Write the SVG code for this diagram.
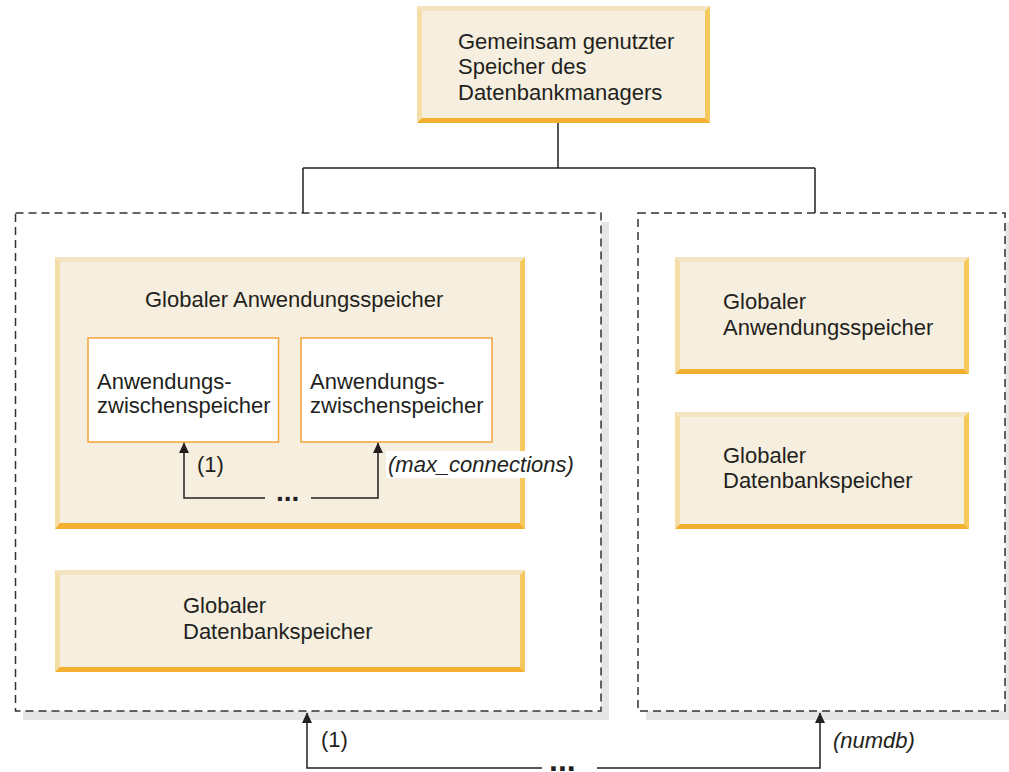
<svg xmlns="http://www.w3.org/2000/svg" width="1009" height="772" viewBox="0 0 1009 772">
<defs>
<style>
text{font-family:"Liberation Sans",Arial,Helvetica,sans-serif;font-size:22px;fill:#231f20}
.it{font-style:italic}
.dots{font-weight:bold;font-size:28px}
.fill{fill:#f6efdf}
.bt{fill:#f4e4c1}
.bl{fill:#f5dda8}
.br{fill:#f6c95c}
.bb{fill:#f2b02e}
.shadow{fill:#e6e6e6}
.dash{fill:#fff;stroke:#333;stroke-width:1.5;stroke-dasharray:8 5}
.inner{fill:#fff;stroke:#f4a33a;stroke-width:1.5}
.line{fill:none;stroke:#231f20;stroke-width:1.5}
</style>
<marker id="arr" markerUnits="userSpaceOnUse" markerWidth="11" markerHeight="11" viewBox="0 0 11 11" refX="10" refY="5.5" orient="auto">
<path d="M0,0.5 L10.5,5.5 L0,10.5 Z" fill="#231f20"/>
</marker>
</defs>
<rect width="1009" height="772" fill="#fff"/>

<g id="container-left">
<rect class="shadow" x="23" y="222" width="586" height="498"/>
<rect class="dash" x="15.5" y="213" width="585.5" height="498"/>
</g>
<g id="container-right">
<rect class="shadow" x="646" y="222" width="367" height="498"/>
<rect class="dash" x="638" y="213" width="367" height="498"/>
</g>

<g id="dbm-shared">
<rect class="fill" x="417" y="6" width="293" height="117"/>
<polygon class="bt" points="417,6 710,6 705,11 422,11"/>
<polygon class="bl" points="417,6 422,11 422,118 417,123"/>
<polygon class="br" points="710,6 710,123 705,118 705,11"/>
<polygon class="bb" points="417,123 422,118 705,118 710,123"/>
<text x="458" y="49">Gemeinsam genutzter</text>
<text x="458" y="74">Speicher des</text>
<text x="458" y="100">Datenbankmanagers</text>
</g>

<g id="global-app-left">
<rect class="fill" x="55" y="257" width="470" height="272"/>
<polygon class="bt" points="55,257 525,257 520,262 60,262"/>
<polygon class="bl" points="55,257 60,262 60,523 55,529"/>
<polygon class="br" points="525,257 525,529 520,523 520,262"/>
<polygon class="bb" points="55,529 60,523 520,523 525,529"/>
<text x="145" y="307">Globaler Anwendungsspeicher</text>
</g>

<g id="app-heap-1">
<rect class="inner" x="88" y="338" width="190.5" height="104"/>
<text x="97" y="389">Anwendungs-</text>
<text x="97" y="413">zwischenspeicher</text>
</g>
<g id="app-heap-2">
<rect class="inner" x="301" y="338" width="191" height="104"/>
<text x="310" y="389">Anwendungs-</text>
<text x="310" y="413">zwischenspeicher</text>
</g>

<g id="global-db-left">
<rect class="fill" x="55" y="570" width="470" height="102"/>
<polygon class="bt" points="55,570 525,570 520,575 60,575"/>
<polygon class="bl" points="55,570 60,575 60,667 55,672"/>
<polygon class="br" points="525,570 525,672 520,667 520,575"/>
<polygon class="bb" points="55,672 60,667 520,667 525,672"/>
<text x="183" y="613">Globaler</text>
<text x="183" y="639">Datenbankspeicher</text>
</g>

<g id="global-app-right">
<rect class="fill" x="675" y="257" width="294" height="117"/>
<polygon class="bt" points="675,257 969,257 964,262 680,262"/>
<polygon class="bl" points="675,257 680,262 680,369 675,374"/>
<polygon class="br" points="969,257 969,374 964,369 964,262"/>
<polygon class="bb" points="675,374 680,369 964,369 969,374"/>
<text x="723" y="309">Globaler</text>
<text x="723" y="335">Anwendungsspeicher</text>
</g>

<g id="global-db-right">
<rect class="fill" x="675" y="412" width="294" height="117"/>
<polygon class="bt" points="675,412 969,412 964,417 680,417"/>
<polygon class="bl" points="675,412 680,417 680,524 675,529"/>
<polygon class="br" points="969,412 969,529 964,524 964,417"/>
<polygon class="bb" points="675,529 680,524 964,524 969,529"/>
<text x="723" y="463">Globaler</text>
<text x="723" y="488">Datenbankspeicher</text>
</g>

<g id="connectors">
<path class="line" d="M558,123 V168 M303,168 H815 M303,168 V213 M815,168 V213"/>
<path class="line" d="M265,498 H184 V443" marker-end="url(#arr)"/>
<path class="line" d="M311,498 H378 V443" marker-end="url(#arr)"/>
<path class="line" d="M542,768 H307 V713" marker-end="url(#arr)"/>
<path class="line" d="M597,768 H820 V713" marker-end="url(#arr)"/>
</g>

<g id="labels">
<text x="197" y="472">(1)</text>
<rect x="386" y="451" width="192" height="27" fill="#fff"/>
<text class="it" x="388" y="472">(max_connections)</text>
<text class="dots" x="276" y="501">...</text>
<text x="321" y="747">(1)</text>
<text class="it" x="833" y="748">(numdb)</text>
<text class="dots" x="549" y="771" style="font-size:32px">...</text>
</g>
</svg>
